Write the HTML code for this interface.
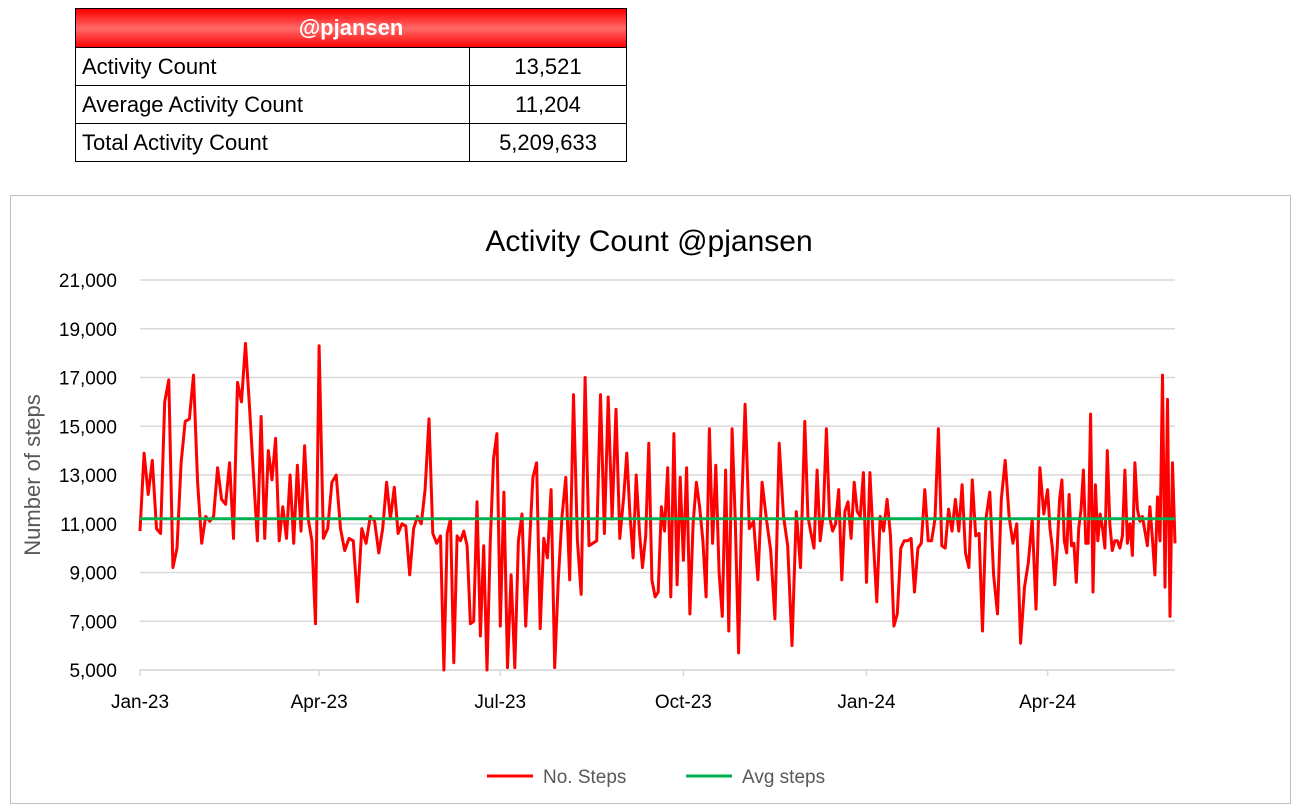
<!DOCTYPE html>
<html><head><meta charset="utf-8"><style>
body{margin:0;width:1303px;height:807px;background:#fff;font-family:"Liberation Sans",sans-serif;position:relative;overflow:hidden}
table{position:absolute;left:75px;top:8px;width:552px;border-collapse:collapse}
td{border:1px solid #000;height:37px;font-size:22px;padding:0 6px;color:#000}
.hd{background:linear-gradient(#f00 0%,#ff6a6a 50%,#f00 100%);color:#fff;font-weight:bold;text-align:center;height:38px}
.v{text-align:center;width:144px}
</style></head><body>
<table>
<tr><td colspan="2" class="hd">@pjansen</td></tr>
<tr><td>Activity Count</td><td class="v">13,521</td></tr>
<tr><td>Average Activity Count</td><td class="v">11,204</td></tr>
<tr><td>Total Activity Count</td><td class="v">5,209,633</td></tr>
</table>
<svg id="chart" width="1303" height="807" style="position:absolute;left:0;top:0">
<rect x="10.5" y="195.5" width="1280" height="608" fill="#fff" stroke="#bfbfbf"/>
<text x="649" y="251" text-anchor="middle" font-size="30" fill="#000">Activity Count @pjansen</text>
<text transform="translate(40,475) rotate(-90)" text-anchor="middle" font-size="22" fill="#595959">Number of steps</text>
<g id="grid"></g><g id="yt"></g><g id="xt"></g><g id="series"></g>
<g>
<g><line x1="487" y1="776" x2="533" y2="776" stroke="#f00" stroke-width="3"/><text x="543" y="783" font-size="19" fill="#595959">No. Steps</text></g>
<g><line x1="686" y1="776" x2="732" y2="776" stroke="#00b050" stroke-width="3"/><text x="742" y="783" font-size="19" fill="#595959">Avg steps</text></g>
</g>
</svg>
<script>
const yTicks=[5000,7000,9000,11000,13000,15000,17000,19000,21000];
const xTickLabels=["Jan-23","Apr-23","Jul-23","Oct-23","Jan-24","Apr-24"];
const xTickDays=[0,90,181,273,365,456];
const monthStartDays=[0,31,59,90,120,151,181,212,243,273,304,334,365,396,425,456,486,520];
const avgSteps=11204;
const totalDays=520;
const steps2023a=[
[10700,13900,12200,13600,10800,10600,16000,16900,9200,10000,13500,15200,15300,17100,12700],
[10200,11300,11100,11300,13300,12000,11800,13500,10400,16800,16000,18400,15800,13000],
[10300,15400,10400,14000,12800,14500,10300,11700,10400,13000,10200,13400,10700,14200,11200,10300,6900],
[18300,10400,10800,12700,13000,10800,9900,10400,10300,7800,10800,10200,11300,11100],
[9800,10800,12700,11200,12500,10600,11000,10900,8900,10800,11300,11000,12400,15300,10600,10200],
[10500,5000,10600,11200,5300,10500,10300,10700,10100,6900,7000,11900,6400,10100,5000,10300,13700,14700]];
const steps2023b=[
[6800,12300,5100,8900,5100,10300,11400,6800,10000,12900,13500,6700,10400,9600,12400,5100,8700],
[11300,12900,8700,16300,10300,8100,17000,10100,10200,10300,16300,10600,16200,11200,15700,10400],
[12100,13900,11400,9600,13000,10700,9200,10500,14300,8700,8000,8200,11700,10700,13300,8000,14700,8500,12900],
[9500,13300,7300,11000,12700,11700,10300,8000,14900,10200,13400,9000,7200,13200,6600,14900,11100,5700,11900],
[15900,10800,11100,8700,12700,11200,9900,7100,14300,11300,10100,6000,11500,9200],
[15200,11300,10600,10000,13200,10300,11400,14900,11300,10700,11000,12400,8700,11500,11900,10400,12700,11500,11300,13100]];
const steps2024=[
[8600,13100,10300,7800,11300,10700,12000,10500,6800,7300,10000,10300,10300,10400,8200,10000,10200,12400],
[10300,10300,11200,14900,10100,10000,11600,10700,12000,10700,12600,9800,9200,12800,10500,10600,6600],
[11200,12300,8900,7300,12000,13600,11300,10200,11000,6100,8400,9400,11200,7500,13300,11400],
[12400,10800,10000,8500,10000,12000,12800,10300,9800,12200,10100,10200,8600,10800,11600,13200,10200,10200,15500,8200,12600,10300,11400,10800,10000],
[14000,11000,9900,10300,10300,10000,10500,13200,10200,11000,9700,13500,11600,11100,11300,10700,10100,11700,10400,8900,12100,10300,17100,8400,16100,7200,13500,10200]];
const NS="http://www.w3.org/2000/svg";
const X0=140,X1=1175,Y0=670,Y1=280;
function xs(d){return X0+(d/totalDays)*(X1-X0);}
function ys(v){return Y0-(v-5000)/(21000-5000)*(Y0-Y1);}
function mk(t,a,p){const e=document.createElementNS(NS,t);for(const k in a)e.setAttribute(k,a[k]);p.appendChild(e);return e;}
const grid=document.getElementById('grid'),yt=document.getElementById('yt'),xt=document.getElementById('xt'),ser=document.getElementById('series');
yTicks.forEach(v=>{
 const l=mk('line',{x1:X0,x2:X1,y1:ys(v),y2:ys(v),stroke:'#d9d9d9','stroke-width':1.5},grid);
 
 
 const t=mk('text',{x:117,y:ys(v)+7,'text-anchor':'end','font-size':19,fill:'#000'},yt);
 t.textContent=v.toLocaleString('en-US');
 
 
});
const ax=mk('line',{x1:X0,x2:X1,y1:Y0,y2:Y0,stroke:'#d9d9d9','stroke-width':1.5},xt);


xTickLabels.forEach((s,i)=>{
 const x=xs(xTickDays[i]);
 const tk=mk('line',{x1:x,x2:x,y1:Y0,y2:Y0+6,stroke:'#d9d9d9','stroke-width':1.5},xt);
 
 
 const t=mk('text',{x:x,y:708,'text-anchor':'middle','font-size':19,fill:'#000'},xt);
 t.textContent=s;
 
 
});
const months=steps2023a.concat(steps2023b,steps2024);
const pts=[];
months.forEach((arr,m)=>{
 const s=monthStartDays[m],len=monthStartDays[m+1]-s;
 const last=(m===months.length-1);
 arr.forEach((v,j)=>{
  const d=s+j*len/(last?arr.length-1:arr.length);
  pts.push(xs(d).toFixed(1)+','+ys(v).toFixed(1));
 });
});
const pl=mk('polyline',{points:pts.join(' '),fill:'none',stroke:'#f00','stroke-width':3,'stroke-linejoin':'round'},ser);


const av=mk('line',{x1:X0,x2:X1,y1:ys(avgSteps),y2:ys(avgSteps),stroke:'#00b050','stroke-width':3},ser);


</script>
</body></html>
